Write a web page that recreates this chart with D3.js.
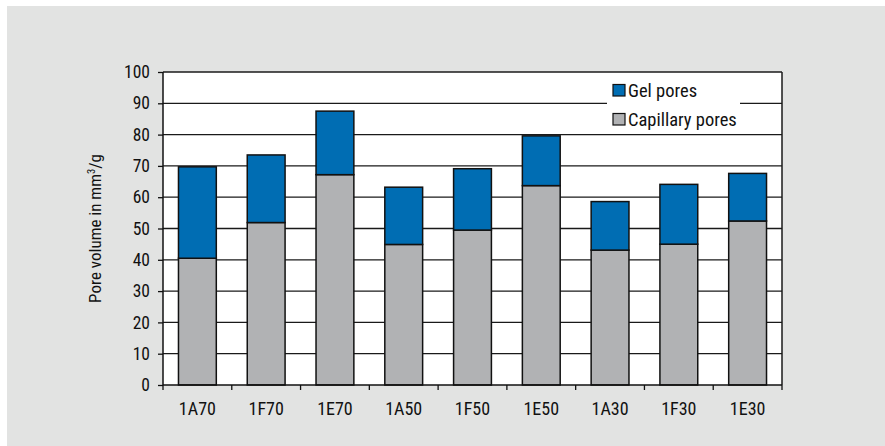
<!DOCTYPE html>
<html><head><meta charset="utf-8">
<script src="https://cdn.jsdelivr.net/npm/d3@7"></script>
<style>
html,body{margin:0;padding:0;background:#fff;}
svg text{font-family:'Liberation Sans Narrow','Arial Narrow','Roboto Condensed',sans-serif;fill:#111;}
</style></head><body>
<svg id="c" width="885" height="446"></svg>
<script>
const categories = ["1A70","1F70","1E70","1A50","1F50","1E50","1A30","1F30","1E30"];
const capillary = [40.5, 51.9, 67.2, 44.9, 49.5, 63.7, 43.1, 45.0, 52.4];
const gel =       [29.2, 21.6, 20.3, 18.3, 19.6, 15.9, 15.5, 19.1, 15.2];
const yTicks = [0,10,20,30,40,50,60,70,80,90,100];
const seriesNames = ["Gel pores","Capillary pores"];

const svg = d3.select("#c");
svg.append("rect").attr("x",7).attr("y",6).attr("width",878).attr("height",440).attr("fill","#e2e3e2");

const L=163, R=782, T=72, B=385;
const x = d3.scaleBand().domain(categories).range([L,R]).paddingInner(0.45).paddingOuter(0.225);
const xb = d3.scaleBand().domain(categories).range([L,R]);
const y = d3.scaleLinear().domain([0,100]).range([B,T]);

svg.append("rect").attr("x",L).attr("y",T).attr("width",R-L).attr("height",B-T).attr("fill","#fff");

// gridlines
svg.append("g").selectAll("line").data(yTicks.filter(d=>d>0)).join("line")
  .attr("x1",L).attr("x2",R).attr("y1",d=>y(d)).attr("y2",d=>y(d))
  .attr("stroke","#1a1a1a").attr("stroke-width",1.3);
svg.append("line").attr("x1",R).attr("x2",R).attr("y1",T).attr("y2",B).attr("stroke","#1a1a1a").attr("stroke-width",1.5);

// bars
const data = categories.map((c,i)=>({c, cap:capillary[i], gel:gel[i]}));
const g = svg.append("g");
g.selectAll("rect.cap").data(data).join("rect").attr("class","cap")
  .attr("x",d=>x(d.c)).attr("width",x.bandwidth())
  .attr("y",d=>y(d.cap)).attr("height",d=>B-y(d.cap))
  .attr("fill","#b1b2b4").attr("stroke","#111").attr("stroke-width",1.5);
g.selectAll("rect.gel").data(data).join("rect").attr("class","gel")
  .attr("x",d=>x(d.c)).attr("width",x.bandwidth())
  .attr("y",d=>y(d.cap+d.gel)).attr("height",d=>y(d.cap)-y(d.cap+d.gel))
  .attr("fill","#006db3").attr("stroke","#111").attr("stroke-width",1.5);

// y axis
const ya = svg.append("g").attr("transform",`translate(${L},0)`)
  .call(d3.axisLeft(y).tickValues(yTicks).tickSize(5).tickPadding(8));
ya.select(".domain").attr("stroke","#111").attr("stroke-width",1.5).attr("d",`M0,${B}V${T}`);
ya.selectAll("line").attr("stroke","#111").attr("stroke-width",1.3);
ya.selectAll("text").attr("font-size",17.5).attr("font-family","'Liberation Sans Narrow','Arial Narrow','Roboto Condensed',sans-serif").attr("fill","#111");

// x axis
const xa = svg.append("g").attr("transform",`translate(0,${B})`);
xa.append("line").attr("x1",L).attr("x2",R).attr("y1",0).attr("y2",0).attr("stroke","#111").attr("stroke-width",1.5);
const bounds = categories.map(c=>xb(c)).concat([R]);
xa.selectAll("line.t").data(bounds).join("line").attr("class","t")
  .attr("x1",d=>d).attr("x2",d=>d).attr("y1",0).attr("y2",5).attr("stroke","#111").attr("stroke-width",1.3);
xa.selectAll("text").data(categories).join("text")
  .attr("x",d=>xb(d)+xb.bandwidth()/2).attr("y",30).attr("text-anchor","middle")
  .attr("font-size",18).text(d=>d);

// y title
svg.append("text").attr("transform",`translate(101,${(T+B)/2}) rotate(-90)`)
  .attr("text-anchor","middle").attr("font-size",17)
  .html('Pore volume in mm<tspan dy="-6" font-size="10.5">3</tspan><tspan dy="6">/g</tspan>');

// legend
const lg = svg.append("g");
lg.append("rect").attr("x",607).attr("y",78).attr("width",133).attr("height",52).attr("fill","#fff");
const colors = ["#006db3","#b1b2b4"];
seriesNames.forEach((n,i)=>{
  lg.append("rect").attr("x",613).attr("y",84.5+i*29).attr("width",12).attr("height",11.5)
    .attr("fill",colors[i]).attr("stroke","#111").attr("stroke-width",1.2);
  lg.append("text").attr("x",628).attr("y",96.5+i*29).attr("font-size",18.5).text(n);
});
</script></body></html>
